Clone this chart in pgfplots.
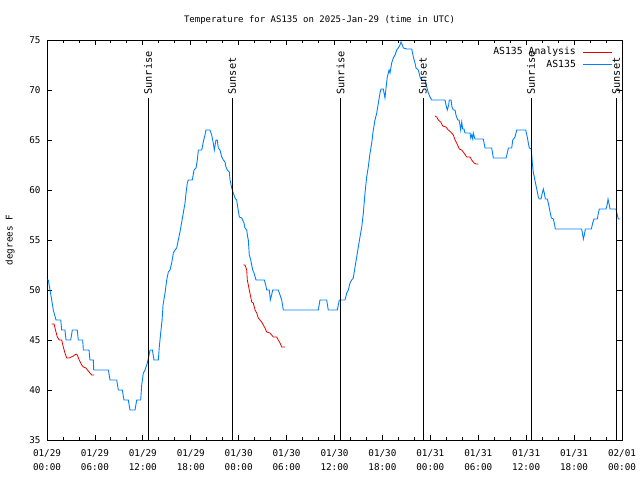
\documentclass[border=0pt]{standalone}
\usepackage{fontspec}
\setmainfont{DejaVu Sans Mono}
\setmonofont{DejaVu Sans Mono}
\usepackage{pgfplots}
\pgfplotsset{compat=1.18}
\definecolor{obsblue}{RGB}{0,128,255}
\definecolor{anred}{RGB}{230,0,0}
\newcommand{\gf}{\fontsize{9}{14}\selectfont}
\newcommand{\tf}{\fontsize{9.3}{14}\selectfont}
\newcommand{\lf}{\fontsize{9.8}{12}\selectfont}
\newcommand{\sunf}{\fontsize{10.3}{12}\selectfont}
\begin{document}
\begin{tikzpicture}
\begin{axis}[
  scale only axis,
  width=575pt, height=400pt,
  xmin=0, xmax=72, ymin=35, ymax=75,
  axis line style={line width=0.8pt},
  xtick={0,6,...,72},
  xticklabels={{01/29\\00:00},{01/29\\06:00},{01/29\\12:00},{01/29\\18:00},{01/30\\00:00},{01/30\\06:00},{01/30\\12:00},{01/30\\18:00},{01/31\\00:00},{01/31\\06:00},{01/31\\12:00},{01/31\\18:00},{02/01\\00:00}},
  minor x tick num=2,
  ytick={35,40,...,75},
  tick align=inside,
  major tick length=5pt, minor tick length=3pt,
  tick style={line width=0.8pt, black},
  xticklabel style={align=center, font=\tf, yshift=-6pt},
  yticklabel style={font=\tf, xshift=-3pt},
  /pgf/number format/assume math mode=true,
  title={Temperature for AS135 on 2025-Jan-29 (time in UTC)},
  title style={font=\gf, at={(rel axis cs:0.5,1)}, anchor=center, xshift=-15pt, yshift=14pt},
  ylabel={degrees F},
  ylabel style={font=\tf, at={(rel axis cs:0,0.5)}, anchor=center, yshift=37pt},
  unbounded coords=jump,
  legend style={at={(rel axis cs:1,1)}, anchor=north east, xshift=-9pt, yshift=-6pt, draw=none, fill=none, font=\lf, inner sep=0pt, row sep=1pt, column sep=6pt, nodes={inner sep=1pt, text height=0.75em, text depth=0.2em}},
  legend cell align=right,
  legend plot pos=right,
  legend image code/.code={\draw[#1] (0pt,0pt) -- (29pt,0pt);},
]
% Analysis (red)
\addplot[anred, line width=0.8pt] coordinates {
(0.59,46.6)(0.88,46.6)(1.13,45.8)(1.29,45.3)(1.54,45.0)(1.84,45.0)(2.04,44.3)(2.25,43.7)(2.47,43.2)(2.79,43.2)(3.29,43.4)(3.63,43.6)(3.79,43.5)(4.04,43.0)(4.35,42.5)(4.55,42.3)(4.88,42.2)(5.17,41.9)(5.38,41.7)(5.60,41.5)(5.89,41.5)
(6.0,nan)
(24.58,52.5)(24.79,52.5)(25.01,52.0)(25.08,51.0)(25.21,50.5)(25.33,50.0)(25.51,49.3)(25.63,48.8)(25.83,48.7)(26.05,48.0)(26.26,47.7)(26.46,47.2)(26.67,47.0)(26.88,46.8)(27.09,46.5)(27.30,46.2)(27.51,45.8)(27.92,45.7)(28.34,45.3)(28.76,45.3)(28.96,45.0)(29.18,44.7)(29.39,44.3)(29.80,44.3)
(30.0,nan)
(48.58,67.4)(48.80,67.3)(49.00,67.0)(49.30,66.8)(49.55,66.4)(49.96,66.3)(50.25,66.0)(50.55,65.8)(50.88,65.5)(51.09,65.0)(51.30,64.7)(51.63,64.1)(51.93,64.0)(52.22,63.7)(52.55,63.3)(52.97,63.3)(53.18,63.0)(53.47,62.7)(53.72,62.6)(54.01,62.6)
};
\addlegendentry{AS135 Analysis}
% Observations (blue)
\addplot[obsblue, line width=0.9pt] coordinates {
(0.06,51)(0.16,51)(0.38,50)(0.59,49)(0.79,48)(1.13,47)(1.72,47)(1.84,46)(2.25,46)(2.38,45)(2.97,45)(3.17,46)(3.79,46)(3.92,45)(4.47,45)(4.55,44)(5.26,44)(5.38,43)(5.80,43)(5.85,42)(7.68,42)(7.89,41)(8.73,41)(8.93,40)(9.43,40)(9.64,39)(10.18,39)(10.39,38)(11.02,38)(11.23,39)(11.73,39)(11.86,40.5)(12.06,41.7)(12.27,42)(12.56,42.7)(12.73,43.3)(12.90,44)(13.19,44)(13.40,43)(13.94,43)(14.06,44.3)(14.21,45.5)(14.41,47)(14.53,48.5)(14.78,49.7)(14.99,51)(15.19,51.8)(15.40,52)(15.61,52.7)(15.82,53.7)(16.03,54)(16.24,54.2)(16.44,55)(16.65,55.8)(16.87,56.8)(17.07,57.7)(17.28,58.7)(17.41,59.7)(17.57,60.7)(17.69,61)(18.19,61)(18.41,62)(18.66,62.2)(18.82,63)(18.95,64)(19.37,64)(19.57,64.8)(19.78,65.5)(19.91,66)(20.41,66)(20.62,65.5)(20.82,64.7)(20.95,64)(21.16,65)(21.32,65)(21.45,64.2)(21.66,64)(21.88,63.3)(22.08,63)(22.29,62.8)(22.41,62.3)(22.58,62)(22.83,61.8)(22.92,61)(23.13,60.2)(23.33,59.7)(23.54,59.2)(23.75,59)(23.88,58.3)(24.08,57.3)(24.38,57.2)(24.67,56.7)(24.79,56.2)(25.01,56)(25.13,55.3)(25.21,55)(25.33,53.5)(25.51,53)(25.63,52.5)(25.76,52)(25.92,51.7)(26.17,51)(27.21,51)(27.39,50.5)(27.51,50)(27.84,50)(27.96,49)(28.13,49.5)(28.26,50)(28.96,50)(29.18,49.5)(29.39,49)(29.59,48)(33.97,48)(34.18,49)(35.02,49)(35.22,48)(36.35,48)(36.60,49)(37.32,49)(37.53,49.7)(37.73,50)(37.94,50.7)(38.15,51)(38.35,51.2)(38.57,52.3)(38.78,53.3)(38.98,54.3)(39.19,55.3)(39.41,56.3)(39.61,57.7)(39.82,59.7)(40.03,61.3)(40.23,62.3)(40.45,63.7)(40.66,64.7)(40.86,66)(41.07,67)(41.29,67.7)(41.49,68.7)(41.70,69.7)(41.82,70.1)(42.11,70.1)(42.32,69.2)(42.45,70.2)(42.61,71.3)(42.83,72)(42.95,71.7)(43.16,72.7)(43.36,73.2)(43.58,73.5)(43.79,74)(43.99,74.2)(44.20,74.5)(44.33,74.8)(44.49,74.5)(44.62,74.2)(45.04,74.1)(45.67,74.1)(45.87,73.3)(46.08,72.7)(46.21,72.2)(46.49,72)(46.71,71.3)(46.92,71)(47.33,71)(47.55,70.3)(47.75,69.7)(47.96,69.3)(48.17,69)(49.84,69)(49.96,68.5)(50.12,68)(50.30,68.5)(50.37,69)(50.59,69)(50.71,68.3)(50.88,68)(51.09,68)(51.21,67.5)(51.43,67)(51.59,67)(51.71,66.5)(51.80,66)(51.93,66.8)(52.05,66.1)(52.22,66.1)(52.34,65.7)(52.97,65.7)(53.06,65.2)(53.18,65.5)(53.31,65.1)(53.38,65.7)(53.59,65.1)(54.63,65.1)(54.85,64.2)(55.68,64.2)(55.89,63.2)(57.48,63.2)(57.64,63.7)(57.77,64.2)(58.19,64.2)(58.32,65)(58.60,65.3)(58.82,66)(59.94,66)(60.14,65.3)(60.27,64.7)(60.39,64.2)(60.64,64.1)(60.77,62.7)(60.89,61.8)(61.02,61.3)(61.14,60.8)(61.27,60.3)(61.40,59.8)(61.52,59.3)(61.65,59.1)(61.86,59.1)(62.02,59.7)(62.15,60.1)(62.27,59.7)(62.40,59.1)(62.65,59.1)(62.77,58.7)(62.90,58.2)(63.02,57.7)(63.15,57.2)(63.40,57.1)(63.52,56.7)(63.65,56.1)(66.95,56.1)(67.08,55.5)(67.16,55.1)(67.28,55.5)(67.41,56.1)(68.16,56.1)(68.33,56.7)(68.50,57.1)(68.91,57.1)(69.04,57.7)(69.16,58.1)(70.00,58.1)(70.16,58.6)(70.25,59.1)(70.38,58.6)(70.50,58.1)(71.25,58.1)(71.41,57.5)(71.54,57.1)(71.75,57.1)
};
\addlegendentry{AS135}
% Sunrise / sunset lines
\addplot[black, line width=0.8pt, forget plot] coordinates {
(12.65,35)(12.65,69.2)(12.7,nan)
(23.17,35)(23.17,69.2)(23.2,nan)
(36.75,35)(36.75,69.2)(36.8,nan)
(47.08,35)(47.08,69.2)(47.1,nan)
(60.61,35)(60.61,69.2)(60.7,nan)
(71.25,35)(71.25,69.2)
};
\node[rotate=90, anchor=west, font=\sunf, inner sep=1pt] at (axis cs:12.65,69.4) {Sunrise};
\node[rotate=90, anchor=west, font=\sunf, inner sep=1pt] at (axis cs:23.17,69.4) {Sunset};
\node[rotate=90, anchor=west, font=\sunf, inner sep=1pt] at (axis cs:36.75,69.4) {Sunrise};
\node[rotate=90, anchor=west, font=\sunf, inner sep=1pt] at (axis cs:47.08,69.4) {Sunset};
\node[rotate=90, anchor=west, font=\sunf, inner sep=1pt] at (axis cs:60.61,69.4) {Sunrise};
\node[rotate=90, anchor=west, font=\sunf, inner sep=1pt] at (axis cs:71.25,69.4) {Sunset};
\end{axis}
\pgfresetboundingbox
\useasboundingbox ([shift={(-47pt,-40pt)}]current axis.south west) rectangle ([shift={(18pt,40pt)}]current axis.north east);
\end{tikzpicture}
\end{document}
